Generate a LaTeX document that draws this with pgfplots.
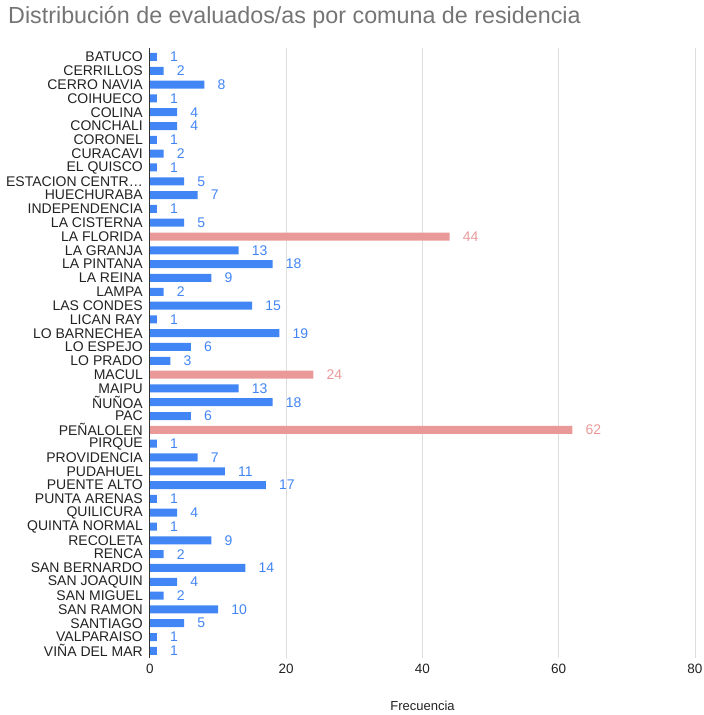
\documentclass[border=0pt]{standalone}
\usepackage{pgfplots}
\pgfplotsset{compat=1.18}
\usepackage{fontspec}
\setmainfont{Liberation Sans}
\definecolor{barblue}{HTML}{4285F4}
\definecolor{barred}{HTML}{EA9999}
\definecolor{titlegray}{HTML}{757575}
\definecolor{gridgray}{HTML}{DDDDDD}
\definecolor{axisgray}{HTML}{333333}
\definecolor{txt}{HTML}{222222}
\begin{document}
\begin{tikzpicture}[x=1pt,y=1pt]
\path[use as bounding box] (0,0) rectangle (704,715);
\node[anchor=base west, text=titlegray, font=\fontsize{23.3}{26}\selectfont, inner sep=0pt] at (8,691) {Distribución de evaluados/as por comuna de residencia};
\begin{axis}[
  at={(150pt,57pt)}, anchor=south west,
  scale only axis, width=545pt, height=610pt,
  xmin=0, xmax=80, ymin=-0.65, ymax=43.52, y dir=reverse,
  xtick={0,20,40,60,80},
  ytick={0,...,43},
  yticklabels={BATUCO,CERRILLOS,CERRO NAVIA,COIHUECO,COLINA,CONCHALI,CORONEL,CURACAVI,EL QUISCO,ESTACION CENTR…,HUECHURABA,INDEPENDENCIA,LA CISTERNA,LA FLORIDA,LA GRANJA,LA PINTANA,LA REINA,LAMPA,LAS CONDES,LICAN RAY,LO BARNECHEA,LO ESPEJO,LO PRADO,MACUL,MAIPU,ÑUÑOA,PAC,PEÑALOLEN,PIRQUE,PROVIDENCIA,PUDAHUEL,PUENTE ALTO,PUNTA ARENAS,QUILICURA,QUINTA NORMAL,RECOLETA,RENCA,SAN BERNARDO,SAN JOAQUIN,SAN MIGUEL,SAN RAMON,SANTIAGO,VALPARAISO,VIÑA DEL MAR},
  major tick length=0pt,
  axis line style={draw=none},
  xmajorgrids, grid style={gridgray, line width=1pt},
  yticklabel style={font=\fontsize{14}{14}\selectfont, text=txt, inner ysep=0pt, inner xsep=0pt, xshift=-7pt},
  xticklabel style={font=\fontsize{13.5}{14}\selectfont, text=txt, yshift=-3pt},
  /pgf/number format/assume math mode=true,
  xlabel={Frecuencia},
  xlabel style={font=\fontsize{13}{14}\selectfont, text=txt, yshift=-20pt},
  xbar, bar width=8pt,
  nodes near coords,
  nodes near coords style={font=\fontsize{14}{14}\selectfont, anchor=west, inner sep=0pt, xshift=13pt},
  clip=false,
]
\addplot[draw=none, fill=barblue, bar shift=0pt, nodes near coords style={text=barblue}] coordinates {
(1,0) (2,1) (8,2) (1,3) (4,4) (4,5) (1,6) (2,7) (1,8) (5,9) (7,10) (1,11) (5,12)
(13,14) (18,15) (9,16) (2,17) (15,18) (1,19) (19,20) (6,21) (3,22)
(13,24) (18,25) (6,26) (1,28) (7,29) (11,30) (17,31) (1,32) (4,33) (1,34) (9,35) (2,36) (14,37) (4,38) (2,39) (10,40) (5,41) (1,42) (1,43)
};
\addplot[draw=none, fill=barred, bar shift=0pt, nodes near coords style={text=barred}] coordinates {
(44,13) (24,23) (62,27)
};
\draw[axisgray, line width=1pt] (axis cs:0,-0.65) -- (axis cs:0,43.52);
\end{axis}
\end{tikzpicture}
\end{document}
